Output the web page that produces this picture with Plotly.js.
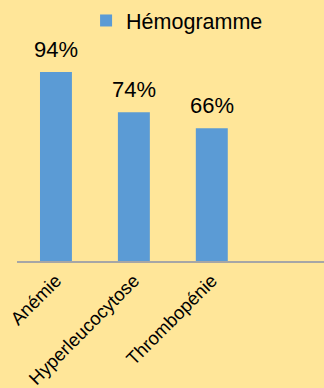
<!DOCTYPE html>
<html>
<head>
<meta charset="utf-8">
<script src="https://cdn.plot.ly/plotly-3.0.1.min.js"></script>
<style>html,body{margin:0;padding:0;background:#FFE699;}#chart{width:324px;height:388px;}</style>
</head>
<body>
<div id="chart"></div>
<script>
const categories = ["Anémie", "Hyperleucocytose", "Thrombopénie"];
const values = [94, 74, 66];
const labels = ["94%", "74%", "66%"];
const seriesName = "Hémogramme";

const font = "Liberation Sans, Arial, sans-serif";

const trace = {
  type: "bar",
  x: categories,
  y: values,
  name: seriesName,
  marker: { color: "#5B9BD5" },
  width: 0.41,
  showlegend: true,
  hoverinfo: "none"
};

const annotations = categories.map((c, i) => ({
  x: c, y: values[i], text: labels[i], showarrow: false,
  xanchor: "center", yanchor: "bottom", yshift: 8,
  font: { family: font, size: 22, color: "#000" }
}));

const layout = {
  width: 324, height: 388,
  paper_bgcolor: "#FFE699", plot_bgcolor: "#FFE699",
  margin: { l: 17, r: 0, t: 40, b: 127 },
  showlegend: true,
  legend: {
    orientation: "h", x: 0.225, xanchor: "left", y: 1, yref: "container", yanchor: "top",
    font: { family: font, size: 21.5, color: "#000" }, bgcolor: "rgba(0,0,0,0)"
  },
  xaxis: {
    type: "category", range: [-0.5, 3.44], showgrid: false, zeroline: false,
    showline: true, linecolor: "#A6A6A6", linewidth: 1.5, ticks: "",
    tickangle: -45, tickfont: { family: font, size: 18.5, color: "#000" }, fixedrange: true
  },
  yaxis: {
    range: [0, 109.4], showgrid: false, zeroline: false, showline: false,
    showticklabels: false, ticks: "", fixedrange: true
  },
  annotations: annotations,
  bargap: 0.59
};

Plotly.newPlot("chart", [trace], layout, { displayModeBar: false, staticPlot: true });
</script>
</body>
</html>
